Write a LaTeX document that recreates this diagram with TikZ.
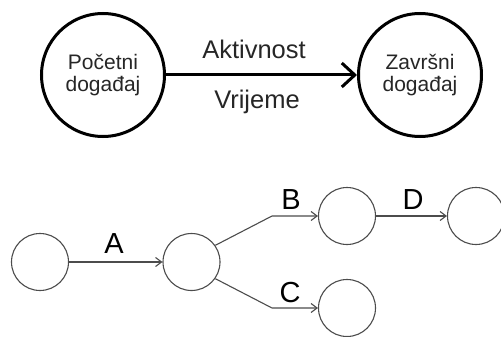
\documentclass[tikz,border=0pt]{standalone}
\usepackage{fontspec}
\setmainfont{Liberation Sans}
\usetikzlibrary{arrows.meta}
\begin{document}
\begin{tikzpicture}[x=1pt,y=-1pt,
  bigev/.style={draw=black,line width=3pt,circle,minimum size=123pt,inner sep=0pt,
    align=center,font=\fontsize{21}{22}\selectfont,text=black!85},
  bigact/.style={line width=3pt,-{Straight Barb[length=13pt,width=24pt,line width=3pt]}},
  toplbl/.style={font=\fontsize{25.5}{27}\selectfont,text=black!85},
  smallev/.style={draw=black!70,line width=1.1pt,circle,minimum size=57pt,inner sep=0pt},
  smallact/.style={draw=black!70,line width=1.1pt,-{Straight Barb[length=6pt,width=9pt,line width=1.1pt]}},
  letter/.style={font=\fontsize{29}{31}\selectfont,anchor=base}]
\useasboundingbox (0,0) rectangle (501,337);
% top
\node[bigev] (s) at (103,75) {Početni\\događaj};
\node[bigev] (e) at (420,75) {Završni\\događaj};
\draw[bigact] (s) -- (e);
\node[toplbl] (akt) at (254,49) {Aktivnost};
\node[toplbl] (vri) at (257,102) {Vrijeme};
% bottom
\node[smallev] (n1) at (40,262) {};
\node[smallev] (n2) at (191.5,262) {};
\node[smallev] (n3) at (347,216) {};
\node[smallev] (n4) at (476,216) {};
\node[smallev] (n5) at (347,308) {};
\coordinate (kb) at (272,216);
\coordinate (kc) at (272,308);
\draw[smallact] (n1) -- (n2);
\draw[smallact] (n2.35) -- (kb) -- (n3);
\draw[smallact] (n2.-35) -- (kc) -- (n5);
\draw[smallact] (n3) -- (n4);
\node[letter] (la) at (114,253) {A};
\node[letter] (lb) at (291,209) {B};
\node[letter] (lc) at (290,302) {C};
\node[letter] (ld) at (413,209) {D};
\end{tikzpicture}
\end{document}
